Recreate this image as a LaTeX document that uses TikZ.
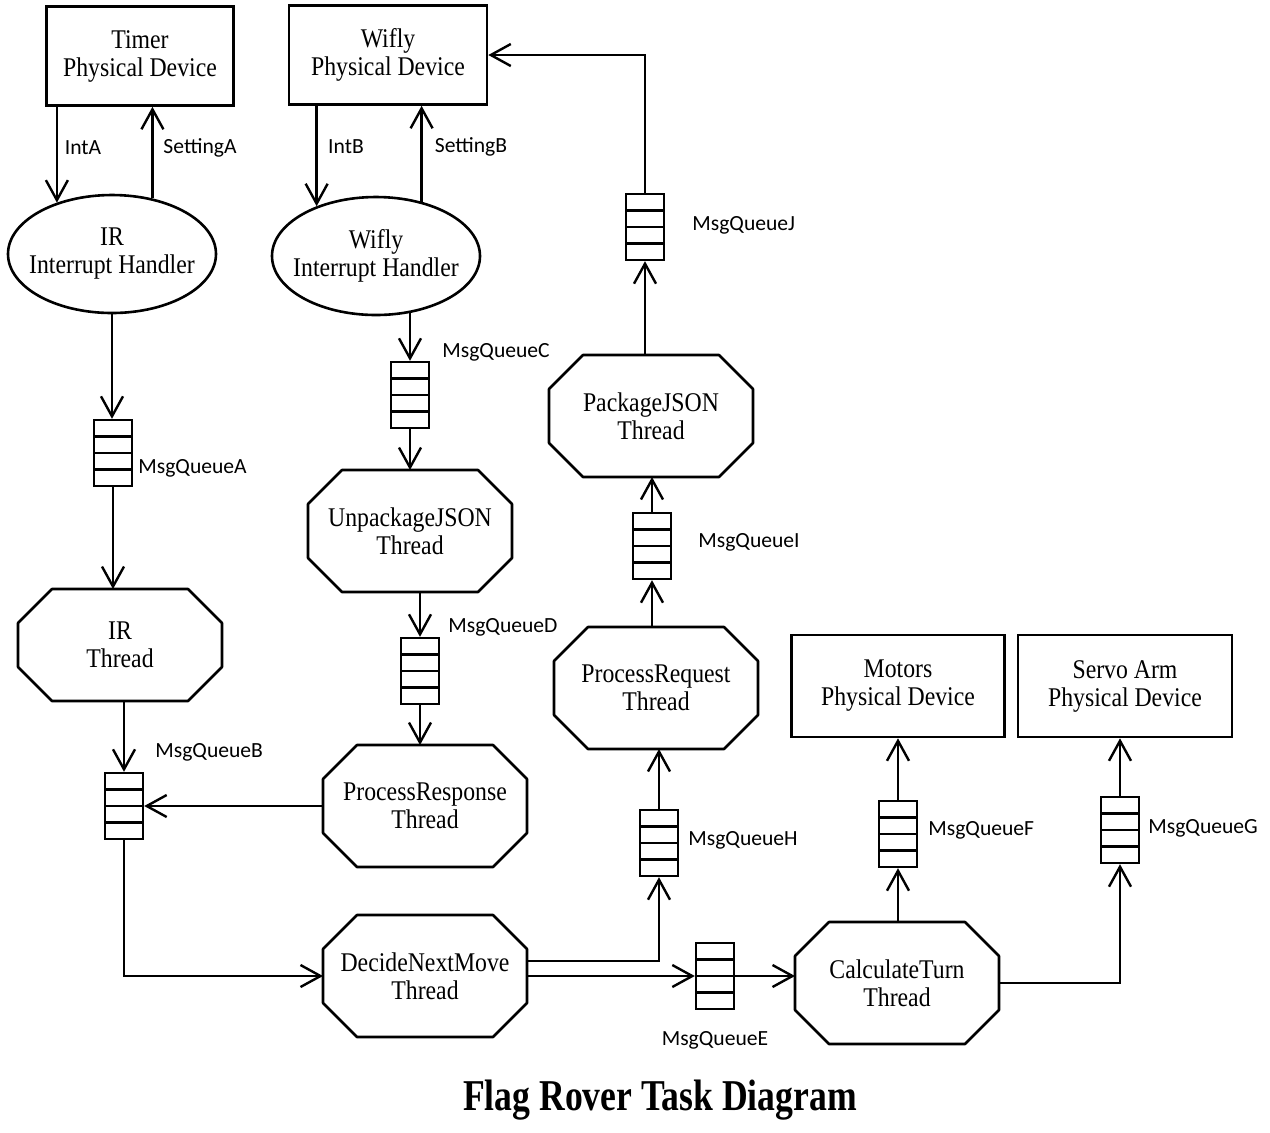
\documentclass[tikz,border=0pt]{standalone}
\usepackage{fontspec}
\setmainfont{Liberation Serif}[FakeStretch=0.88]
\newfontfamily\lblfont{Carlito}
\newfontfamily\titlefont{Liberation Serif}[FakeStretch=0.81]
\usetikzlibrary{arrows.meta}
\usetikzlibrary{shapes.geometric}
\usetikzlibrary{calc}

\begin{document}
\begin{tikzpicture}[x=0.5pt,y=-0.5pt,
% Device and handler style
    device/.style={rectangle,draw,line width=1.3pt,minimum height=49.5pt,align=center,
		font={\fontsize{13.5pt}{14pt}\selectfont}},
    handler/.style={ellipse,draw,line width=1.3pt,minimum width=104pt,minimum height=59pt,
		inner xsep=-6pt,inner ysep=0pt,align=center,font={\fontsize{13.5pt}{14pt}\selectfont}},
% Thread style (octagon drawn round the node box)
    thread/.style={rectangle,minimum width=102pt,minimum height=61pt,inner sep=0pt,outer sep=0pt,
		align=center,font={\fontsize{13.5pt}{14pt}\selectfont},
		append after command={\pgfextra{\let\thisthread\tikzlastnode
		  \draw[line width=1.3pt,line join=round]
		    ([xshift=17pt]\thisthread.north west) -- ([xshift=-17pt]\thisthread.north east)
		    -- ([yshift=-17pt]\thisthread.north east) -- ([yshift=17pt]\thisthread.south east)
		    -- ([xshift=-17pt]\thisthread.south east) -- ([xshift=17pt]\thisthread.south west)
		    -- ([yshift=17pt]\thisthread.south west) -- ([yshift=-17pt]\thisthread.north west)
		    -- cycle;}}},
% Queue style
    queue/.style={rectangle,draw,line width=1.2pt,minimum width=19pt,minimum height=33pt,
		inner sep=0pt,path picture={
		\foreach \f in {0.25,0.5,0.75}
		  \draw[line width=1.2pt] ($(path picture bounding box.south west)!\f!(path picture bounding box.north west)$)
		    -- ($(path picture bounding box.south east)!\f!(path picture bounding box.north east)$);}},
    qlabel/.style={inner sep=0pt,font={\lblfont\fontsize{10.8pt}{12pt}\selectfont}},
% Connector style
    link/.style={line width=1.2pt,-{Straight Barb[length=10pt,width=11pt,line width=1.2pt]}}
    ]
  \useasboundingbox (0,0) rectangle (1270,1132);

  % devices
  \node (timer) [device,minimum width=93.5pt] at (140,56) {Timer\\Physical Device};
  \node (wifly) [device,minimum width=99pt] at (388,55) {Wifly\\Physical Device};
  \node (motors) [device,minimum width=106.5pt,minimum height=51pt] at (898,686) {Motors\\Physical Device};
  \node (servo) [device,minimum width=107pt,minimum height=51pt] at (1125,686) {Servo Arm\\Physical Device};

  % interrupt handlers
  \node (irh) [handler] at (112,254) {IR\\Interrupt Handler};
  \node (wh) [handler] at (376,256) {Wifly\\Interrupt Handler};

  % threads
  \node (irt) [thread,minimum height=56pt] at (120,645) {IR\\Thread};
  \node (ujs) [thread] at (410,531) {UnpackageJSON\\Thread};
  \node (prs) [thread] at (425,806) {ProcessResponse\\Thread};
  \node (dnm) [thread] at (425,976) {DecideNextMove\\Thread};
  \node (prq) [thread] at (656,688) {ProcessRequest\\Thread};
  \node (pjs) [thread] at (651,416) {PackageJSON\\Thread};
  \node (ct) [thread] at (897,983) {CalculateTurn\\Thread};

  % queues
  \node (qa) [queue] at (113,453) {};
  \node (qb) [queue] at (124,806) {};
  \node (qc) [queue] at (410,395) {};
  \node (qd) [queue] at (420,671) {};
  \node (qe) [queue] at (715,976) {};
  \node (qf) [queue] at (898,834) {};
  \node (qg) [queue] at (1120,830) {};
  \node (qh) [queue] at (659,843) {};
  \node (qi) [queue] at (652,546) {};
  \node (qj) [queue] at (645,227) {};

  % labels
  \node (intA) [qlabel] at (83,148) {IntA};
  \node (setA) [qlabel] at (200,148) {SettingA};
  \node (intB) [qlabel] at (346,147) {IntB};
  \node (setB) [qlabel] at (471,147) {SettingB};
  \node (lqa) [qlabel,anchor=west] at (138,468) {MsgQueueA};
  \node (lqb) [qlabel,anchor=west] at (155,752) {MsgQueueB};
  \node (lqc) [qlabel,anchor=west] at (442,352) {MsgQueueC};
  \node (lqd) [qlabel,anchor=west] at (448,627) {MsgQueueD};
  \node (lqe) [qlabel] at (715,1040) {MsgQueueE};
  \node (lqf) [qlabel,anchor=west] at (928,830) {MsgQueueF};
  \node (lqg) [qlabel,anchor=west] at (1148,828) {MsgQueueG};
  \node (lqh) [qlabel,anchor=west] at (688,840) {MsgQueueH};
  \node (lqi) [qlabel,anchor=west] at (698,542) {MsgQueueI};
  \node (lqj) [qlabel,anchor=west] at (692,225) {MsgQueueJ};

  % connectors
  \draw[link] (timer.south -| irh.137) -- (irh.137);
  \draw[link] (irh.54) -- (irh.54 |- timer.south);
  \draw[link] (wifly.south -| wh.140) -- (wh.140);
  \draw[link] (wh.50) -- (wh.50 |- wifly.south);

  \draw[link] (irh.south) -- (irh.south |- qa.north);
  \draw[link] (qa.south) -- (qa.south |- irt.north);
  \draw[link] (irt.south -| qb.north) -- (qb.north);
  \draw[link] (prs.west) -- (qb.east);
  \draw[link] (qb.south) |- (dnm.west);

  \draw[link] (qc.north |- wh.-58) -- (qc.north);
  \draw[link] (qc.south) -- (ujs.north);
  \draw[link] (ujs.south -| qd.north) -- (qd.north);
  \draw[link] (qd.south) -- (qd.south |- prs.north);

  \draw[link] ([yshift=7.5pt]dnm.east) -| (qh.south);
  \draw[link] (qh.north) -- (qh.north |- prq.south);
  \draw[link] (prq.north -| qi.south) -- (qi.south);
  \draw[link] (qi.north) -- (qi.north |- pjs.south);
  \draw[link] (pjs.north -| qj.south) -- (qj.south);
  \draw[link] (qj.north) |- (wifly.east);

  \draw[link] (dnm.east) -- (qe.west);
  \draw[link] (qe.east) -- (qe.east -| ct.west);
  \draw[link] (ct.north -| qf.south) -- (qf.south);
  \draw[link] (qf.north) -- (motors.south);
  \draw[link] (ct.east) -| (qg.south);
  \draw[link] (qg.north) -- (qg.north |- servo.south);

  \node (title) at (660,1100) {\titlefont\bfseries\fontsize{22pt}{24pt}\selectfont Flag Rover Task Diagram};
\end{tikzpicture}
\end{document}
